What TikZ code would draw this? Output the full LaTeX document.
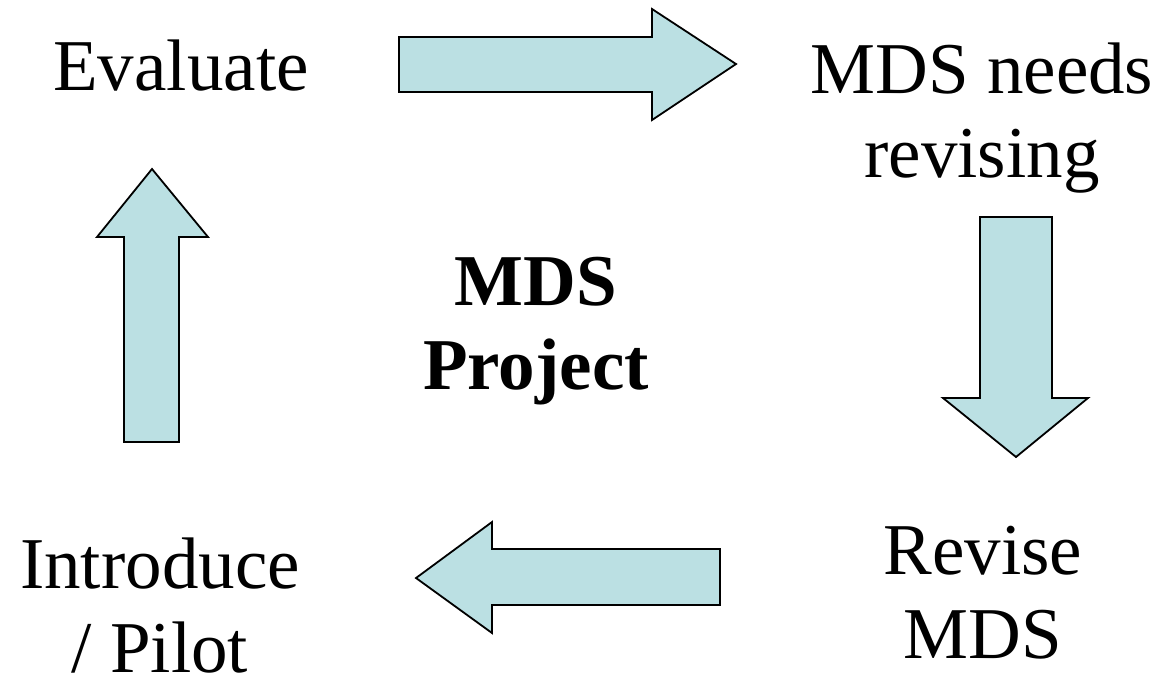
\documentclass[tikz,border=0pt]{standalone}
\usepackage{fontspec}
\setmainfont{Liberation Serif}
\usepackage{xcolor}
\definecolor{arrowfill}{HTML}{BBE0E3}
\tikzset{blockarrow/.style={draw=black,line width=1.8pt,line join=miter,fill=arrowfill},
stage/.style={inner sep=0pt,anchor=base,align=center,font=\fontsize{73}{84}\selectfont}}

\begin{document}
\begin{tikzpicture}[x=1pt,y=-1pt]
\useasboundingbox(0,0)rectangle(1164,681);
\node[stage](eval)at(181,90){Evaluate};
\node[stage](needs)at(982,177){MDS needs\\revising};
\node[stage](revise)at(983,658){Revise\\MDS};
\node[stage](intro)at(160,672){Introduce\\/ Pilot};
\node[stage,font=\fontsize{73}{84}\selectfont\bfseries](proj)at(536,389){MDS\\Project};
\draw[blockarrow](399,37)--(652,37)--(652,9)--(736,64)--(652,120)--(652,92)--(399,92)--cycle;
\draw[blockarrow](980,217)--(1052,217)--(1052,398)--(1088,398)--(1016,457)--(943,398)--(980,398)--cycle;
\draw[blockarrow](720,549)--(492,549)--(492,522)--(416,578)--(492,633)--(492,605)--(720,605)--cycle;
\draw[blockarrow](124,442)--(124,237)--(97,237)--(152,169)--(208,237)--(179,237)--(179,442)--cycle;
\end{tikzpicture}
\end{document}
